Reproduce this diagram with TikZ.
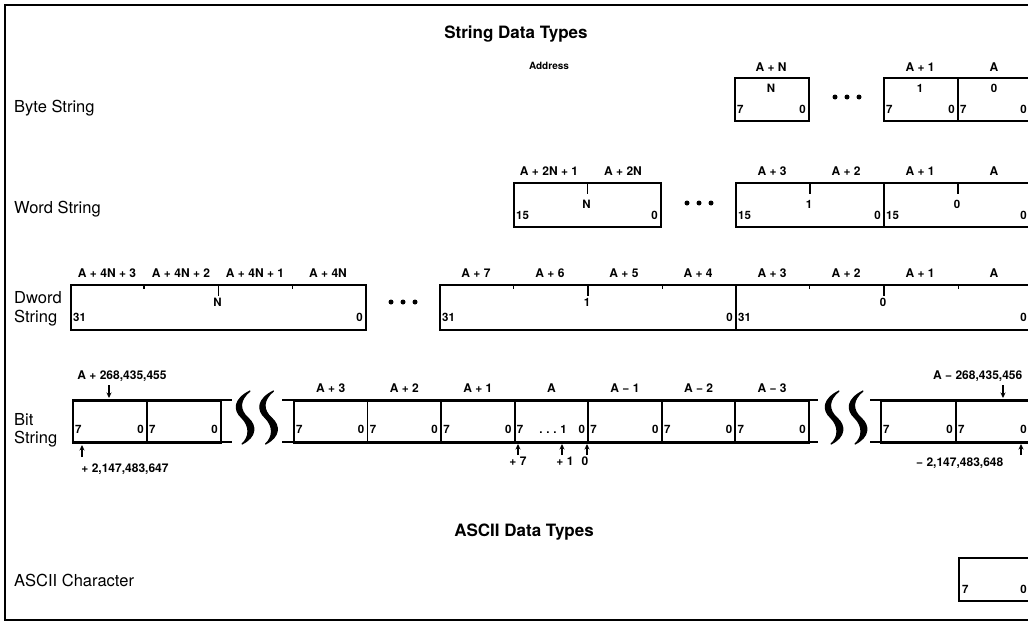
\documentclass[tikz,border=0pt]{standalone}
\usepackage{fontspec}
\setmainfont{TeX Gyre Heros}
\usetikzlibrary{arrows.meta,calc}
\begin{document}
\begin{tikzpicture}[x=1pt,y=-1pt,
 rowlbl/.style={anchor=base west, inner sep=0, font=\fontsize{16.5}{18}\selectfont},
 ttl/.style={anchor=base, inner sep=0, font=\bfseries\fontsize{17}{19}\selectfont},
 adr/.style={anchor=base, inner sep=0, font=\bfseries\fontsize{12}{13}\selectfont},
 dig/.style={inner sep=0, font=\bfseries\fontsize{11.5}{12}\selectfont},
 dl/.style={dig, anchor=base west},
 dr/.style={dig, anchor=base east},
 dc/.style={dig, anchor=base},
 cell/.style={draw, line width=1.8pt, inner sep=0, anchor=north west},
 tickln/.style={line width=1.5pt},
 rail/.style={line width=1.8pt},
 wavefill/.style={fill=black, draw=black, line width=1.2pt, line join=round},
 arr/.style={line width=1.1pt, -{Stealth[length=5.5pt,width=5pt]}},
 dotc/.style={circle, fill, inner sep=0, minimum size=5pt},
]
\useasboundingbox (0,0) rectangle (1028,624);
\newcommand\swave[1]{\draw[wavefill] ({#1+5},391)
  .. controls ({#1-6},400) and ({#1-6},410) .. ({#1+3},418)
  .. controls ({#1+12},426) and ({#1+11},437) .. ({#1-3},444)
  .. controls ({#1+5},437) and ({#1+5},426) .. ({#1-3},418)
  .. controls ({#1-12},410) and ({#1-11},399) .. ({#1+5},391) -- cycle;}
% frame
\draw[line width=1.5pt] (1030,5) -- (5,5) -- (5,620) -- (1030,620);
% titles
\node[ttl] (t1) at (516,38) {String Data Types};
\node[ttl] (t2) at (524,536) {ASCII Data Types};
\node[anchor=base, inner sep=0, font=\bfseries\fontsize{10}{11}\selectfont] (addr) at (549,69) {Address};
% row labels
\node[rowlbl] (lbyte) at (14,112) {Byte String};
\node[rowlbl] (lword) at (14,213) {Word String};
\node[rowlbl] (ldw1) at (14,303) {Dword};
\node[rowlbl] (ldw2) at (14,322) {String};
\node[rowlbl] (lbit1) at (14,425) {Bit};
\node[rowlbl] (lbit2) at (14,443) {String};
\node[rowlbl] (lasc) at (14,586) {ASCII Character};

% ---------- Byte string ----------
\node[cell, minimum width=74pt, minimum height=43pt] (bN) at (734,77) {};
\node[cell, minimum width=74pt, minimum height=43pt] (b1) at (883,77) {};
\node[cell, minimum width=74pt, minimum height=43pt] (b0) at (957,77) {};
\node[adr] (lbN) at (771,71) {A + N};
\node[adr] (lb1) at (920,71) {A + 1};
\node[adr] (lb0) at (994,71) {A};
\node[dc] (bNt) at (771,92) {N};
\node[dc] (b1t) at (920,92) {1};
\node[dc] (b0t) at (994,92) {0};
\node[dl] (bN7) at (737,113) {7};
\node[dr] (bN0) at (806,113) {0};
\node[dl] (b17) at (886,113) {7};
\node[dr] (b10) at (955,113) {0};
\node[dl] (b07) at (960,113) {7};
\node[dr] (b00) at (1027,113) {0};
\node[dotc] (bd1) at (835,97) {};
\node[dotc] (bd2) at (847,97) {};
\node[dotc] (bd3) at (859,97) {};

% ---------- Word string ----------
\node[cell, minimum width=147pt, minimum height=44pt] (wN) at (513,182) {};
\node[cell, minimum width=148pt, minimum height=44pt] (w1) at (735,182) {};
\node[cell, minimum width=148pt, minimum height=44pt] (w0) at (883,182) {};
\draw[tickln] (wN.north) -- ++(0,12);
\draw[tickln] (w1.north) -- ++(0,12);
\draw[tickln] (w0.north) -- ++(0,12);
\node[adr] (lwa) at (549,175) {A + 2N + 1};
\node[adr] (lwb) at (623,175) {A + 2N};
\node[adr] (lwc) at (772,175) {A + 3};
\node[adr] (lwd) at (846,175) {A + 2};
\node[adr] (lwe) at (920,175) {A + 1};
\node[adr] (lwf) at (994,175) {A};
\node[dc] (wNt) at (586.5,208) {N};
\node[dc] (w1t) at (809,208) {1};
\node[dc] (w0t) at (957,208) {0};
\node[dl] (wN15) at (516,219) {15};
\node[dr] (wN0) at (658,219) {0};
\node[dl] (w115) at (738,219) {15};
\node[dr] (w10) at (881,219) {0};
\node[dl] (w015) at (886,219) {15};
\node[dr] (w00) at (1027,219) {0};
\node[dotc] (wd1) at (687,203) {};
\node[dotc] (wd2) at (699,203) {};
\node[dotc] (wd3) at (711,203) {};

% ---------- Dword string ----------
\node[cell, minimum width=295pt, minimum height=45pt] (dN) at (70,284) {};
\node[cell, minimum width=296pt, minimum height=45pt] (d1) at (439,284) {};
\node[cell, minimum width=296pt, minimum height=45pt] (d0) at (735,284) {};
\foreach \b in {dN,d1,d0}{
  \draw[tickln] ($(\b.north west)!0.25!(\b.north east)$) -- ++(0,5);
  \draw[tickln] (\b.north) -- ++(0,12);
  \draw[tickln] ($(\b.north west)!0.75!(\b.north east)$) -- ++(0,5);
}
\node[adr] (lda) at (107,277) {A + 4N + 3};
\node[adr] (ldb) at (181,277) {A + 4N + 2};
\node[adr] (ldc) at (255,277) {A + 4N + 1};
\node[adr] (ldd) at (328,277) {A + 4N};
\node[adr] (lde) at (476,277) {A + 7};
\node[adr] (ldf) at (550,277) {A + 6};
\node[adr] (ldg) at (624,277) {A + 5};
\node[adr] (ldh) at (698,277) {A + 4};
\node[adr] (ldi) at (772,277) {A + 3};
\node[adr] (ldj) at (846,277) {A + 2};
\node[adr] (ldk) at (920,277) {A + 1};
\node[adr] (ldl) at (994,277) {A};
\node[dc] (dNt) at (217.5,306) {N};
\node[dc] (d1t) at (587,306) {1};
\node[dc] (d0t) at (883,306) {0};
\node[dl] (dN31) at (73,321) {31};
\node[dr] (dN0) at (363,321) {0};
\node[dl] (d131) at (442,321) {31};
\node[dr] (d10) at (733,321) {0};
\node[dl] (d031) at (738,321) {31};
\node[dr] (d00) at (1027,321) {0};
\node[dotc] (dd1) at (391,302) {};
\node[dotc] (dd2) at (403,302) {};
\node[dotc] (dd3) at (415,302) {};

% ---------- Bit string ----------
% left segment
\coordinate (rl1) at (72,400); \coordinate (rl2) at (232,400);
\coordinate (rl3) at (72,442); \coordinate (rl4) at (232,442);
\draw[rail] (rl1) -- (rl2); \draw[rail] (rl3) -- (rl4);
\node[cell, minimum width=74pt, minimum height=42pt] (bl1) at (72,400) {};
\node[cell, minimum width=74pt, minimum height=42pt] (bl2) at (146,400) {};
\node[dl] (bl17) at (75,433) {7};
\node[dr] (bl10) at (144,433) {0};
\node[dl] (bl27) at (149,433) {7};
\node[dr] (bl20) at (218,433) {0};
\swave{245}
\swave{268.5}
% middle segment
\coordinate (rm1) at (282,400); \coordinate (rm2) at (818,400);
\coordinate (rm3) at (282,442); \coordinate (rm4) at (818,442);
\draw[rail] (rm1) -- (rm2); \draw[rail] (rm3) -- (rm4);
\foreach \i/\nm in {0/c3,1/c2,2/c1,3/c0,4/cm1,5/cm2,6/cm3}{
  \node[cell, minimum width=73.57pt, minimum height=42pt] (\nm) at ({293+\i*73.57},400) {};
  \node[dl] (\nm s) at ({296+\i*73.57},433) {7};
  \node[dr] (\nm e) at ({364.5+\i*73.57},433) {0};
}
\node[adr] (lc3) at (c3.north |- 0,392) {A + 3};
\node[adr] (lc2) at (c2.north |- 0,392) {A + 2};
\node[adr] (lc1) at (c1.north |- 0,392) {A + 1};
\node[adr] (lc0) at (c0.north |- 0,392) {A};
\node[adr] (lcm1) at (cm1.north |- 0,392) {A − 1};
\node[adr] (lcm2) at (cm2.north |- 0,392) {A − 2};
\node[adr] (lcm3) at (cm3.north |- 0,392) {A − 3};
\node[dc] (c0dots) at (553,433) {.\,\,.\,\,.\,\,1};
\swave{834}
\swave{858}
% right segment
\coordinate (rr1) at (870,400); \coordinate (rr2) at (1031,400);
\coordinate (rr3) at (870,442); \coordinate (rr4) at (1031,442);
\draw[rail] (rr1) -- (rr2); \draw[rail] (rr3) -- (rr4);
\node[cell, minimum width=75pt, minimum height=42pt] (br1) at (880,400) {};
\node[cell, minimum width=75pt, minimum height=42pt] (br2) at (955,400) {};
\node[dl] (br17) at (883,433) {7};
\node[dr] (br10) at (953,433) {0};
\node[dl] (br27) at (958,433) {7};
\node[dr] (br20) at (1027,433) {0};
% offsets and arrows
\node[adr] (hi) at (122,379) {A + 268,435,455};
\coordinate (hia) at (109,385); \coordinate (hib) at (109,398);
\draw[arr] (hia) -- (hib);
\coordinate (p1a) at (82,457); \coordinate (p1b) at (82,445);
\draw[arr] (p1a) -- (p1b);
\node[adr] (pmax) at (125,472) {+ 2,147,483,647};
\node[adr, anchor=base west] (lo) at (933,379) {A − 268,435,456};
\coordinate (loa) at (1003,385); \coordinate (lob) at (1003,398);
\draw[arr] (loa) -- (lob);
\coordinate (p2a) at (1021,455); \coordinate (p2b) at (1021,444);
\draw[arr] (p2a) -- (p2b);
\node[adr, anchor=base west] (pmin) at (916,466) {− 2,147,483,648};
\coordinate (q7a) at (518,455); \coordinate (q7b) at (518,444);
\coordinate (q1a) at (562,455); \coordinate (q1b) at (562,444);
\coordinate (q0a) at (587,455); \coordinate (q0b) at (587,444);
\draw[arr] (q7a) -- (q7b);
\draw[arr] (q1a) -- (q1b);
\draw[arr] (q0a) -- (q0b);
\node[adr] (o7) at (518,465) {+ 7};
\node[adr] (o1) at (565,465) {+ 1};
\node[adr] (o0) at (585,465) {0};

% ---------- ASCII ----------
\node[cell, minimum width=73pt, minimum height=43pt] (asc) at (958,557) {};
\node[dl] (asc7) at (962,593) {7};
\node[dr] (asc0) at (1027,593) {0};
\end{tikzpicture}
\end{document}
